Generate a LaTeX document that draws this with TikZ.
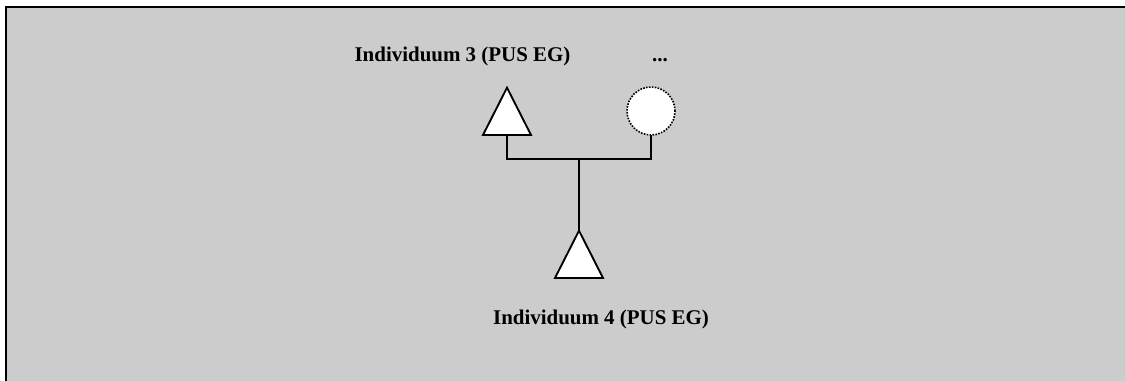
\documentclass[tikz,border=0pt]{standalone}
\usepackage{fontspec}
\setmainfont{Liberation Serif}
\usetikzlibrary{shapes.geometric}

\begin{document}
\begin{tikzpicture}[x=0.75pt, y=-0.75pt,
  male/.style={shape=isosceles triangle, shape border rotate=90, isosceles triangle stretches,
    minimum width=36pt, minimum height=35.5pt, inner sep=0pt, outer sep=0pt,
    draw, line width=1.4pt, fill=white, anchor=lower side},
  unknown/.style={circle, draw, densely dotted, line width=1.2pt, fill=white,
    minimum size=36pt, inner sep=0pt, outer sep=0pt},
  label/.style={font=\fontsize{15.7}{18}\selectfont\bfseries, anchor=base, inner sep=0pt},
  line/.style={line width=1.5pt}]
\useasboundingbox (0,0) rectangle (1125,381);
% frame
\fill[white] (0,0) rectangle (1125,381);
\fill[black!20] (6,7) rectangle (1125,381);
\draw[line width=1.9pt] (6,381) -- (6,7) -- (1125,7);
% parents
\node[label] (l3) at (462.5,61.5) {Individuum 3 (PUS EG)};
\node[label] (ldots) at (660,61.5) {...};
\node[male] (t3) at (507,135) {};
\node[unknown] (c3) at (651,111) {};
% child
\node[male] (t4) at (579,278) {};
\node[label] (l4) at (601,325) {Individuum 4 (PUS EG)};
% lines
\coordinate (junc) at (579,159);
\draw[line] (t3.lower side) |- (junc) -| (c3.south);
\draw[line] (junc) -- (t4.apex);
\end{tikzpicture}
\end{document}
